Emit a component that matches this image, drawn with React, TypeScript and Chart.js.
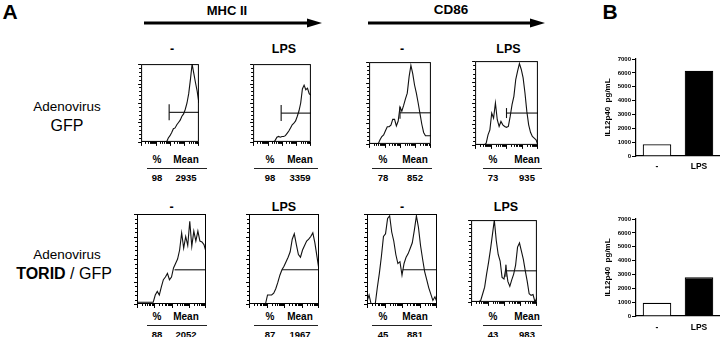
import React, { useEffect, useRef } from 'react';
import { Chart, registerables } from 'chart.js';
Chart.register(...registerables);

const FONT = '"Liberation Sans", Arial, Helvetica, sans-serif';

// fluorescence channel bins (log scale, 4 decades over 35 bins)
const channelBins = [0, 1, 2, 3, 4, 5, 6, 7, 8, 9, 10, 11, 12, 13, 14, 15, 16, 17, 18, 19, 20, 21, 22, 23, 24, 25, 26, 27, 28, 29, 30, 31, 32, 33, 34];

// Adenovirus GFP row (counts, % of max)
const mhcGfpNone = [0, 0, 0, 0, 0, 0, 0, 0, 0, 0, 0, 0, 0, 0, 0, 0, 5, 8, 12, 17, 18, 22, 25, 28, 33, 36, 42, 50, 62, 80, 100, 88, 76, 65, 50];
const mhcGfpLps = [0, 0, 0, 0, 0, 0, 0, 0, 0, 0, 0, 0, 0, 2, 6, 7, 6, 7, 7, 8, 11, 14, 18, 22, 24, 27, 33, 40, 50, 68, 73, 67, 69, 62, 60];
const cd86GfpNone = [0, 0, 0, 0, 0, 0, 5, 9, 11, 16, 21, 21, 23, 30, 30, 22, 28, 45, 40, 47, 55, 62, 82, 96, 86, 72, 62, 50, 37, 24, 14, 10, 10, 10, 10];
const cd86GfpLps = [0, 0, 0, 0, 0, 0, 2, 12, 18, 38, 32, 50, 30, 22, 28, 24, 22, 21, 22, 34, 48, 58, 78, 88, 97, 90, 80, 62, 40, 24, 15, 10, 8, 6, 0];

// Adenovirus TORID / GFP row
const mhcToridNone = [2, 2, 2, 2, 2, 2, 2, 2, 2, 10, 14, 10, 19, 27, 30, 34, 27, 30, 40, 45, 50, 60, 79, 62, 75, 65, 92, 64, 81, 70, 81, 70, 69, 66, 58];
const mhcToridLps = [0, 0, 0, 0, 0, 0, 0, 0, 0, 10, 10, 10, 12, 17, 24, 32, 38, 42, 47, 52, 58, 72, 78, 66, 55, 52, 60, 65, 70, 72, 75, 79, 68, 53, 38];
const cd86ToridNone = [3, 10, 0, 0, 0, 18, 34, 53, 75, 78, 95, 98, 80, 70, 55, 45, 47, 32, 45, 52, 56, 62, 68, 82, 98, 85, 65, 50, 36, 27, 18, 11, 4, 8, 2];
const cd86ToridLps = [0, 0, 0, 0, 0, 2, 10, 18, 34, 48, 64, 82, 100, 75, 58, 50, 30, 28, 42, 25, 19, 27, 34, 45, 67, 72, 62, 52, 38, 25, 10, 8, 9, 0, 5];

// gates (start bin, level)
const gateStartsGfp = [16.5, 16.5, 17, 17];
const gateLevelsGfp = [38, 37, 38, 38];
const gateStartsTorid = [18.5, 16, 17.3, 18];
const gateLevelsTorid = [38, 38, 38, 38];

// statistics
const statPercentGfp = [98, 98, 78, 73];
const statMeanGfp = [2935, 3359, 852, 935];
const statPercentTorid = [88, 87, 45, 43];
const statMeanTorid = [2052, 1967, 881, 983];

// Panel B
const treatments = ['-', 'LPS'];
const il12Gfp = [850, 6150];
const il12Torid = [950, 2800];
const il12Ticks = [0, 1000, 2000, 3000, 4000, 5000, 6000, 7000];

const boxPlugin = {
  id: 'facsBox',
  afterDraw(chart: any) {
    const { ctx, chartArea: a } = chart;
    ctx.save();
    ctx.strokeStyle = '#000';
    ctx.lineWidth = 1;
    ctx.strokeRect(a.left + 0.5, a.top + 0.5, a.right - a.left - 1, a.bottom - a.top - 1);
    ctx.beginPath();
    const h = a.bottom - a.top;
    for (let i = 0; i <= 20; i++) {
      const y = Math.round(a.bottom - (h * i) / 20) + 0.5;
      const len = i % 5 === 0 ? 3 : 2;
      ctx.moveTo(a.left - len, y);
      ctx.lineTo(a.left, y);
    }
    const w = a.right - a.left;
    for (let d = 0; d < 4; d++) {
      for (let k = 1; k <= 9; k++) {
        const frac = (d + Math.log10(k)) / 4;
        const x = Math.round(a.left + w * frac) + 0.5;
        const len = k === 1 ? 4 : 2;
        ctx.moveTo(x, a.bottom);
        ctx.lineTo(x, a.bottom + len);
      }
    }
    const xe = Math.round(a.right) - 0.5;
    ctx.moveTo(xe, a.bottom);
    ctx.lineTo(xe, a.bottom + 4);
    ctx.stroke();
    ctx.restore();
  },
};

type Box = [number, number, number, number];

function Histogram({ box, values, gateStart, gateLevel, gateTick }: { box: Box; values: number[]; gateStart: number; gateLevel: number; gateTick: number }) {
  const ref = useRef<HTMLCanvasElement>(null);
  const [l, t, r, b] = box;
  const W = r - l + 6;
  const H = b - t + 6;
  useEffect(() => {
    const chart = new Chart(ref.current!, {
      type: 'line',
      data: {
        datasets: [
          {
            data: channelBins.map((c, i) => ({ x: c, y: values[i] })),
            borderColor: '#111',
            borderWidth: 1.1,
            pointRadius: 0,
            tension: 0,
          },
          {
            data: [
              { x: gateStart, y: gateLevel },
              { x: channelBins[channelBins.length - 1], y: gateLevel },
            ],
            borderColor: '#111',
            borderWidth: 1.1,
            pointRadius: [gateTick, 0],
            pointStyle: 'line',
            rotation: 90,
            pointBorderColor: '#111',
            pointBorderWidth: 1.1,
          },
        ],
      },
      options: {
        animation: false,
        responsive: false,
        events: [],
        layout: { padding: { left: 5, top: 1, right: 1, bottom: 5 } },
        scales: {
          x: { type: 'linear', min: 0, max: 34, display: false },
          y: { min: 0, max: 100, display: false },
        },
        plugins: { legend: { display: false }, tooltip: { enabled: false } },
      } as any,
      plugins: [boxPlugin],
    });
    return () => chart.destroy();
  }, []);
  return <canvas ref={ref} width={W} height={H} style={{ position: 'absolute', left: l - 5, top: t - 1, width: W, height: H }} />;
}

function BarPanel({ top, values, labelPad }: { top: number; values: number[]; labelPad: number }) {
  const ref = useRef<HTMLCanvasElement>(null);
  const W = 122;
  const H = 120;
  useEffect(() => {
    const chart = new Chart(ref.current!, {
      type: 'bar',
      data: {
        labels: treatments,
        datasets: [
          {
            data: values,
            backgroundColor: ['#ffffff', '#000000'],
            borderColor: '#000',
            borderWidth: 1.2,
            barPercentage: 0.68,
            categoryPercentage: 1,
          },
        ],
      },
      options: {
        animation: false,
        responsive: false,
        events: [],
        layout: { padding: { left: 0, top: 7, right: 0, bottom: 0 } },
        scales: {
          x: {
            grid: { display: false, drawTicks: false },
            border: { display: true, color: '#000', width: 1.2 },
            ticks: { color: '#000', font: { family: FONT, size: 8.5, weight: 'bold' }, padding: labelPad },
            afterFit: (s: any) => { s.height = 16; },
          },
          y: {
            min: 0,
            max: 7000,
            afterBuildTicks: (s: any) => { s.ticks = il12Ticks.map((v) => ({ value: v })); },
            ticks: {
              color: '#000',
              font: { family: FONT, size: 6, weight: 'bold' },
              padding: 1,
              callback: (v: any) => String(v),
            },
            grid: { display: true, drawOnChartArea: false, drawTicks: true, tickLength: 4, color: '#000', lineWidth: 1 },
            border: { display: true, color: '#000', width: 1.2 },
            title: { display: true, text: 'IL12p40  pg/mL', color: '#000', font: { family: FONT, size: 8, weight: 'bold' }, padding: { top: 5, bottom: 0 } },
            afterFit: (s: any) => { s.width = 38; },
          },
        },
        plugins: { legend: { display: false }, tooltip: { enabled: false } },
      } as any,
    });
    return () => chart.destroy();
  }, []);
  return <canvas ref={ref} width={W} height={H} style={{ position: 'absolute', left: 598, top, width: W, height: H }} />;
}

function T({ x, y, size, bold, children }: { x: number; y: number; size: number; bold?: boolean; children: React.ReactNode }) {
  return (
    <div
      style={{
        position: 'absolute',
        left: x,
        top: y,
        transform: 'translate(-50%, -50%)',
        fontFamily: FONT,
        fontSize: size,
        fontWeight: bold ? 'bold' : 'normal',
        lineHeight: 1,
        whiteSpace: 'nowrap',
        color: '#000',
      }}
    >
      {children}
    </div>
  );
}

const gfpBoxes: Box[] = [
  [137, 56, 207, 146],
  [249, 56, 319, 146],
  [367, 56, 437, 146],
  [474, 56, 543, 146],
];
const toridBoxes: Box[] = [
  [137, 214, 206, 304],
  [249, 214, 319, 304],
  [367, 214, 437, 304],
  [469, 214, 543, 304],
];
const statPctX = [157, 270, 383, 493];
const statMeanX = [186, 300, 415, 527];
const statLine = [[147, 207], [254, 318], [372, 432], [483, 542]];
const colTitles = ['-', 'LPS', '-', 'LPS'];

function Stats({ y, pct, mean }: { y: number; pct: number[]; mean: number[] }) {
  return (
    <>
      {pct.map((p, i) => (
        <React.Fragment key={i}>
          <T x={statPctX[i]} y={y} size={10} bold>%</T>
          <T x={statMeanX[i]} y={y} size={10} bold>Mean</T>
          <div style={{ position: 'absolute', left: statLine[i][0], top: y + 8, width: statLine[i][1] - statLine[i][0], height: 1, background: '#222' }} />
          <T x={statPctX[i]} y={y + 18} size={9.5} bold>{p}</T>
          <T x={statMeanX[i]} y={y + 18} size={9.5} bold>{mean[i]}</T>
        </React.Fragment>
      ))}
    </>
  );
}

export default function App() {
  return (
    <div style={{ position: 'fixed', left: 0, top: 0, width: 720, height: 337, background: '#fff', overflow: 'hidden' }}>
      <T x={10} y={11} size={21} bold>A</T>
      <T x={610} y={11} size={21} bold>B</T>

      <T x={227} y={10} size={13} bold>MHC II</T>
      <T x={451} y={10} size={13.5} bold>CD86</T>
      <svg width={720} height={40} style={{ position: 'absolute', left: 0, top: 0 }}>
        <line x1={144} y1={23} x2={309} y2={23} stroke="#000" strokeWidth={3} />
        <polygon points="307,18.5 322,23 307,27.5" fill="#000" />
        <line x1={368} y1={23} x2={532} y2={23} stroke="#000" strokeWidth={3} />
        <polygon points="530,18.5 545,23 530,27.5" fill="#000" />
      </svg>

      {gfpBoxes.map((bx, i) => (
        <T key={'tg' + i} x={(bx[0] + bx[2]) / 2} y={49} size={12.5} bold>{colTitles[i]}</T>
      ))}
      {toridBoxes.map((bx, i) => (
        <T key={'tt' + i} x={(bx[0] + bx[2]) / 2} y={207} size={12.5} bold>{colTitles[i]}</T>
      ))}

      <T x={67} y={107} size={13.5}>Adenovirus</T>
      <T x={67} y={126} size={16}>GFP</T>
      <T x={67} y={255} size={13.5}>Adenovirus</T>
      <T x={64} y={274} size={16}><b>TORID</b> / GFP</T>

      <Histogram box={gfpBoxes[0]} values={mhcGfpNone} gateStart={gateStartsGfp[0]} gateLevel={gateLevelsGfp[0]} gateTick={8} />
      <Histogram box={gfpBoxes[1]} values={mhcGfpLps} gateStart={gateStartsGfp[1]} gateLevel={gateLevelsGfp[1]} gateTick={8} />
      <Histogram box={gfpBoxes[2]} values={cd86GfpNone} gateStart={gateStartsGfp[2]} gateLevel={gateLevelsGfp[2]} gateTick={6} />
      <Histogram box={gfpBoxes[3]} values={cd86GfpLps} gateStart={gateStartsGfp[3]} gateLevel={gateLevelsGfp[3]} gateTick={5} />

      <Histogram box={toridBoxes[0]} values={mhcToridNone} gateStart={gateStartsTorid[0]} gateLevel={gateLevelsTorid[0]} gateTick={0} />
      <Histogram box={toridBoxes[1]} values={mhcToridLps} gateStart={gateStartsTorid[1]} gateLevel={gateLevelsTorid[1]} gateTick={0} />
      <Histogram box={toridBoxes[2]} values={cd86ToridNone} gateStart={gateStartsTorid[2]} gateLevel={gateLevelsTorid[2]} gateTick={0} />
      <Histogram box={toridBoxes[3]} values={cd86ToridLps} gateStart={gateStartsTorid[3]} gateLevel={gateLevelsTorid[3]} gateTick={6} />

      <Stats y={160} pct={statPercentGfp} mean={statMeanGfp} />
      <Stats y={317} pct={statPercentTorid} mean={statMeanTorid} />

      <BarPanel top={52} values={il12Gfp} labelPad={6} />
      <BarPanel top={212} values={il12Torid} labelPad={7} />
    </div>
  );
}
